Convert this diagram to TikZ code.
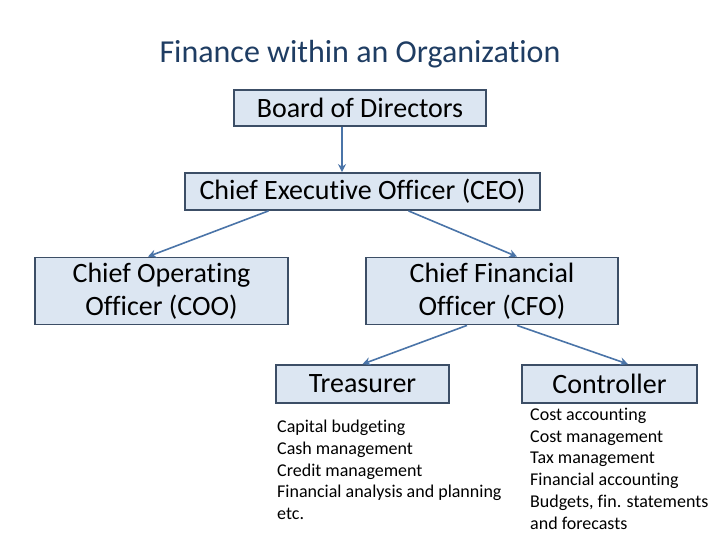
\documentclass[tikz,border=0pt]{standalone}
\usepackage{fontspec}
\setmainfont{Carlito}[Ligatures={NoCommon}]
\usetikzlibrary{arrows.meta}
\definecolor{titleblue}{HTML}{1F3D63}
\definecolor{boxfill}{HTML}{DCE6F2}
\definecolor{boxline}{HTML}{3C4E66}
\definecolor{arrowblue}{HTML}{4A74A8}
\tikzset{
  orgbox/.style={draw=boxline, line width=1.8pt, fill=boxfill, inner sep=0pt, font=\fontsize{28}{33}\selectfont, align=center},
  orgarrow/.style={draw=arrowblue, line width=1.6pt, -{Stealth[length=8pt,width=8pt]}},
  listtext/.style={anchor=north west, inner sep=0pt, align=left, font=\fontsize{18}{21.7}\selectfont},
}
\begin{document}
\begin{tikzpicture}[x=1pt,y=-1pt]
\useasboundingbox[fill=white] (0,0) rectangle (720,540);
\node[text=titleblue, font=\fontsize{32}{36}\selectfont] (title) at (360,54) {Finance within an Organization};
\node[orgbox, minimum width=252pt, minimum height=36pt] (board) at (360,108) {Board of Directors};
\node[orgbox, minimum width=355pt, minimum height=37pt] (ceo) at (362.5,191.5) {Chief Executive Officer (CEO)};
\node[orgbox, minimum width=253pt, minimum height=67pt] (coo) at (161.5,291) {Chief Operating\\Officer (COO)};
\node[orgbox, minimum width=252pt, minimum height=67pt] (cfo) at (492,291) {Chief Financial\\Officer (CFO)};
\node[orgbox, minimum width=173pt, minimum height=38pt] (treas) at (362.5,384) {Treasurer};
\node[orgbox, minimum width=175pt, minimum height=38pt] (ctrl) at (609.5,384) {Controller};
\node[listtext] (tlist) at (277,420) {Capital budgeting\\Cash management\\Credit management\\Financial analysis and planning\\etc.};
\node[listtext] (clist) at (530,408) {Cost accounting\\Cost management\\Tax management\\Financial accounting\\Budgets, fin. statements\\and forecasts};
\draw[orgarrow] ([xshift=-18pt]board.south) -- ([xshift=-18pt]board.south |- ceo.north);
\draw[orgarrow] ([xshift=-94pt]ceo.south) -- ([xshift=-13.5pt]coo.north);
\draw[orgarrow] ([xshift=46pt]ceo.south) -- ([xshift=25pt]cfo.north);
\draw[orgarrow] ([xshift=-25pt]cfo.south) -- (treas.north);
\draw[orgarrow] ([xshift=25pt]cfo.south) -- ([xshift=18.5pt]ctrl.north);
\end{tikzpicture}
\end{document}
